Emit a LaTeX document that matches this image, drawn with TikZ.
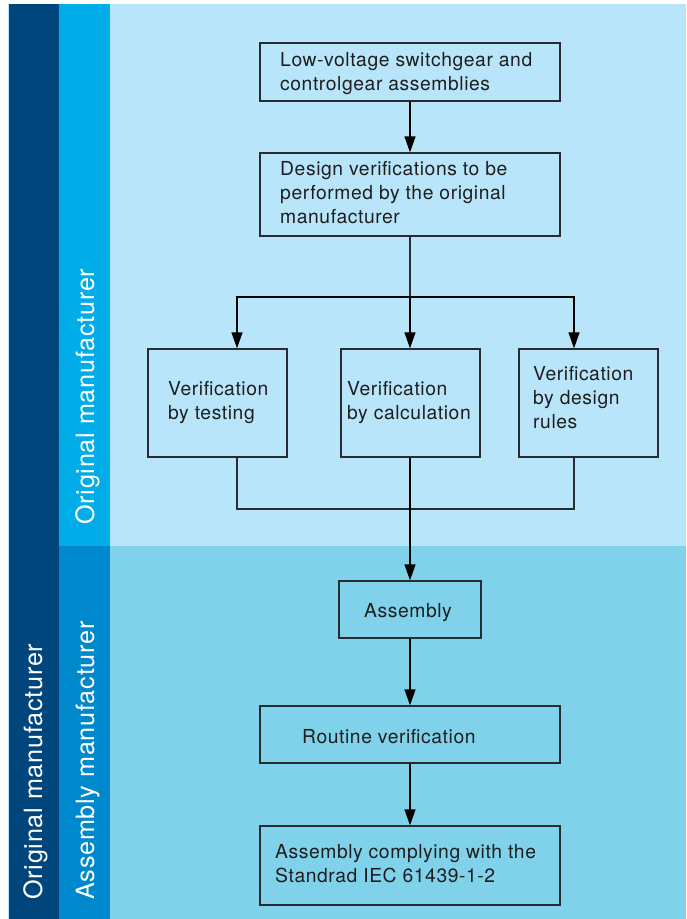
\documentclass[tikz,border=0pt]{standalone}
\usepackage{fontspec}
\setmainfont[LetterSpace=3]{TeX Gyre Heros}
\usetikzlibrary{arrows.meta}
\definecolor{darkbar}{RGB}{0,69,124}
\definecolor{midup}{RGB}{0,173,232}
\definecolor{midlow}{RGB}{0,136,204}
\definecolor{lightup}{RGB}{184,229,249}
\definecolor{lightlow}{RGB}{128,209,234}
\definecolor{linec}{RGB}{40,44,48}
\definecolor{textc}{RGB}{30,30,30}
\begin{document}
\begin{tikzpicture}[x=1pt,y=-1pt,
  box/.style={draw=linec, line width=1.4pt, rectangle, inner sep=0pt},
  txt/.style={inner sep=0pt, align=left, anchor=base west, text=textc, font=\fontsize{19.3}{24}\selectfont},
  side/.style={inner sep=0pt, rotate=90, anchor=base west, text=white, font=\fontsize{25.2}{28}\selectfont},
  arr/.style={draw=black, line width=1.4pt, -{Triangle[length=16pt,width=11pt]}},
  conn/.style={draw=linec, line width=1.4pt}]
\useasboundingbox (0,0) rectangle (686,919);
\fill[white] (0,0) rectangle (686,919);
% background bands
\fill[lightup] (8,4) rectangle (9,919);
\fill[darkbar] (9,4) rectangle (59,919);
\fill[midup] (59,4) rectangle (110,546);
\fill[midlow] (59,546) rectangle (110,919);
\fill[lightup] (110,4) rectangle (686,546);
\fill[lightlow] (110,546) rectangle (686,919);
% side labels
\node[side] (s1) at (42,900) {Original manufacturer};
\node[side] (s2) at (94,525) {Original manufacturer};
\node[side] (s3) at (94,900) {Assembly manufacturer};
% boxes
\node[box, minimum width=300pt, minimum height=58pt] (b1) at (410,72) {};
\node[box, minimum width=300pt, minimum height=83pt] (b2) at (410,194.5) {};
\node[box, minimum width=139pt, minimum height=108pt] (b3) at (217.5,403) {};
\node[box, minimum width=139pt, minimum height=108pt] (b4) at (410.5,403) {};
\node[box, minimum width=139pt, minimum height=108pt] (b5) at (588.5,403) {};
\node[box, minimum width=142pt, minimum height=57pt] (b6) at (410,609.5) {};
\node[box, minimum width=300pt, minimum height=57pt] (b7) at (410,734.5) {};
\node[box, minimum width=300pt, minimum height=79pt] (b8) at (410,865.5) {};
% texts (anchor base = last line's baseline)
\node[txt] (t1) at (280,90) {Low-voltage switchgear and\\controlgear assemblies};
\node[txt] (t2) at (280,223) {Design verifications to be\\performed by the original\\manufacturer};
\node[txt] (t3) at (168,419) {Verification\\by testing};
\node[txt] (t4) at (347,419) {Verification\\by calculation};
\node[txt] (t5) at (533,428) {Verification\\by design\\rules};
\node[txt, anchor=base] (t6) at (408,617) {Assembly};
\node[txt] (t7) at (302,743) {Routine verification};
\node[txt] (t8) at (275,882) {Assembly complying with the\\Standrad IEC 61439-1-2};
% connectors
\coordinate (split) at (410,297);
\coordinate (join) at (410,509);
\draw[arr] (b1) -- (b2);
\draw[conn] (b2.south) -- (split);
\draw[arr] (split) -| ([xshift=19.5pt]b3.north);
\draw[arr] (split) -- (b4.north -| split);
\draw[arr] (split) -| ([xshift=-14.5pt]b5.north);
\draw[conn] ([xshift=19.5pt]b3.south) |- (join);
\draw[conn] ([xshift=-14.5pt]b5.south) |- (join);
\draw[arr] (b4.south -| join) -- (b6.north);
\draw[arr] (b6) -- (b7);
\draw[arr] (b7) -- (b8);
\end{tikzpicture}
\end{document}
